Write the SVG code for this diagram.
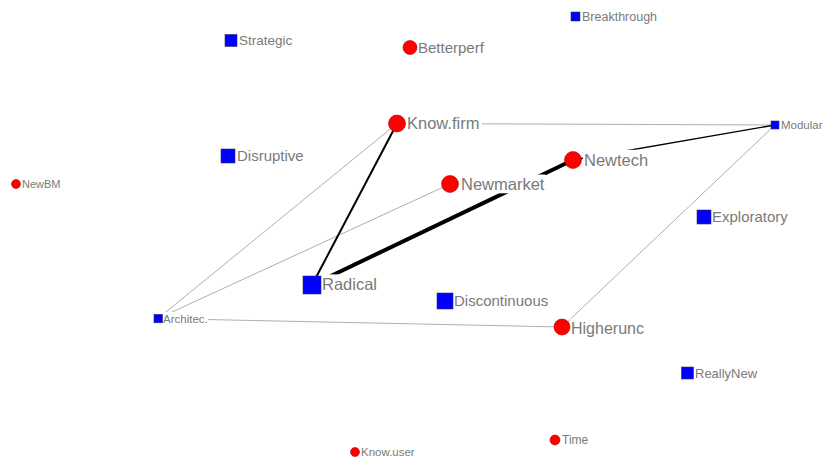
<svg xmlns="http://www.w3.org/2000/svg" width="823" height="461" viewBox="0 0 823 461">
  <style>
    .bg { fill: #ffffff; }
    .lbl { fill: #7a7a7a; font-family: "Liberation Sans", Arial, sans-serif; }
    .circ { fill: #ff0000; stroke: #b00000; stroke-width: 0.6; }
    .sq { fill: #0000ff; stroke: #333366; stroke-width: 0.6; }
    .e-thin { stroke: #9a9a9a; stroke-width: 0.8; fill: none; }
    .e-mid { stroke: #000000; stroke-width: 1.4; fill: none; }
    .e-bold { stroke: #000000; stroke-width: 2; fill: none; }
    .e-heavy { stroke: #000000; stroke-width: 4; fill: none; stroke-linecap: round; }
  </style>
  <rect width="823" height="461" fill="#ffffff"/>

  <!-- connectors -->
  <g id="edges">
    <line class="e-thin" x1="397" y1="123.5" x2="775" y2="125"/>
    <line class="e-thin" x1="397" y1="123.5" x2="158" y2="318.5"/>
    <line class="e-thin" x1="450" y1="184" x2="158" y2="318.5"/>
    <line class="e-thin" x1="158" y1="318.5" x2="562" y2="327"/>
    <line class="e-thin" x1="562" y1="327" x2="775" y2="125"/>
    <line class="e-mid" x1="573" y1="160" x2="775" y2="125"/>
    <line class="e-bold" x1="397" y1="123.5" x2="312" y2="285"/>
    <line class="e-heavy" x1="312" y1="285" x2="573" y2="160"/>
  </g>

  <!-- nodes: white label box, marker, label -->
  <g id="Breakthrough">
    <rect class="bg" x="581" y="9.6" width="77" height="14.4"/>
    <rect class="sq" x="571" y="12" width="9" height="9"/>
    <text class="lbl" x="582" y="21" font-size="12.5">Breakthrough</text>
  </g>
  <g id="Strategic">
    <rect class="bg" x="238" y="32.3" width="55" height="15.5"/>
    <rect class="sq" x="225" y="34.5" width="12" height="12"/>
    <text class="lbl" x="239" y="45.3" font-size="13.5">Strategic</text>
  </g>
  <g id="Betterperf">
    <rect class="bg" x="417" y="38.5" width="68" height="17.3"/>
    <circle class="circ" cx="410" cy="47.5" r="7"/>
    <text class="lbl" x="418" y="52.8" font-size="15">Betterperf</text>
  </g>
  <g id="Know.firm">
    <rect class="bg" x="406" y="113.7" width="76" height="19"/>
    <circle class="circ" cx="397" cy="123.5" r="8.5"/>
    <text class="lbl" x="407" y="129.4" font-size="16.5">Know.firm</text>
  </g>
  <g id="Disruptive">
    <rect class="bg" x="235" y="147" width="69" height="17.3"/>
    <rect class="sq" x="221" y="149" width="14" height="14"/>
    <text class="lbl" x="237" y="161.3" font-size="15">Disruptive</text>
  </g>
  <g id="NewBM">
    <rect class="bg" x="21" y="177.5" width="40" height="12.7"/>
    <circle class="circ" cx="16" cy="184" r="4.5"/>
    <text class="lbl" x="22" y="188" font-size="11">NewBM</text>
  </g>
  <g id="Newmarket">
    <rect class="bg" x="460" y="174.5" width="85.5" height="18.8"/>
    <circle class="circ" cx="450" cy="184" r="8.5"/>
    <text class="lbl" x="461" y="190" font-size="16.5">Newmarket</text>
  </g>
  <g id="Newtech">
    <rect class="bg" x="583" y="149.8" width="66" height="18.8"/>
    <circle class="circ" cx="573" cy="160" r="8.5"/>
    <text class="lbl" x="584" y="165.6" font-size="16.5">Newtech</text>
  </g>
  <g id="Modular">
    <rect class="bg" x="780" y="118" width="43" height="13.2"/>
    <rect class="sq" x="771" y="121" width="8" height="8"/>
    <text class="lbl" x="781" y="129" font-size="11.5">Modular</text>
  </g>
  <g id="Exploratory">
    <rect class="bg" x="711" y="208" width="78" height="17.3"/>
    <rect class="sq" x="697" y="210" width="14" height="14"/>
    <text class="lbl" x="712" y="222.3" font-size="15">Exploratory</text>
  </g>
  <g id="Radical">
    <rect class="bg" x="321" y="274.4" width="57" height="18.8"/>
    <rect class="sq" x="303" y="276" width="18" height="18"/>
    <text class="lbl" x="322" y="290.2" font-size="16.5">Radical</text>
  </g>
  <g id="Discontinuous">
    <rect class="bg" x="453" y="292.2" width="101" height="17.3"/>
    <rect class="sq" x="437" y="293" width="16" height="16"/>
    <text class="lbl" x="454" y="306.4" font-size="15">Discontinuous</text>
  </g>
  <g id="Architec.">
    <rect class="bg" x="162" y="312" width="46" height="13.2"/>
    <rect class="sq" x="154" y="314.3" width="8.5" height="8.5"/>
    <text class="lbl" x="163" y="322.7" font-size="11.5">Architec.</text>
  </g>
  <g id="Higherunc">
    <rect class="bg" x="570" y="318.4" width="75" height="18.4"/>
    <circle class="circ" cx="562" cy="327" r="8"/>
    <text class="lbl" x="571" y="333.6" font-size="16">Higherunc</text>
  </g>
  <g id="ReallyNew">
    <rect class="bg" x="694" y="365.3" width="64" height="15"/>
    <rect class="sq" x="681.5" y="367" width="12" height="12"/>
    <text class="lbl" x="695" y="377.6" font-size="13">ReallyNew</text>
  </g>
  <g id="Know.user">
    <rect class="bg" x="360" y="445.2" width="56" height="13.2"/>
    <circle class="circ" cx="355" cy="452" r="4.5"/>
    <text class="lbl" x="361" y="456.1" font-size="11.5">Know.user</text>
  </g>
  <g id="Time">
    <rect class="bg" x="561" y="432.9" width="29" height="13.8"/>
    <circle class="circ" cx="555" cy="440" r="5"/>
    <text class="lbl" x="562" y="444.3" font-size="12">Time</text>
  </g>
</svg>
